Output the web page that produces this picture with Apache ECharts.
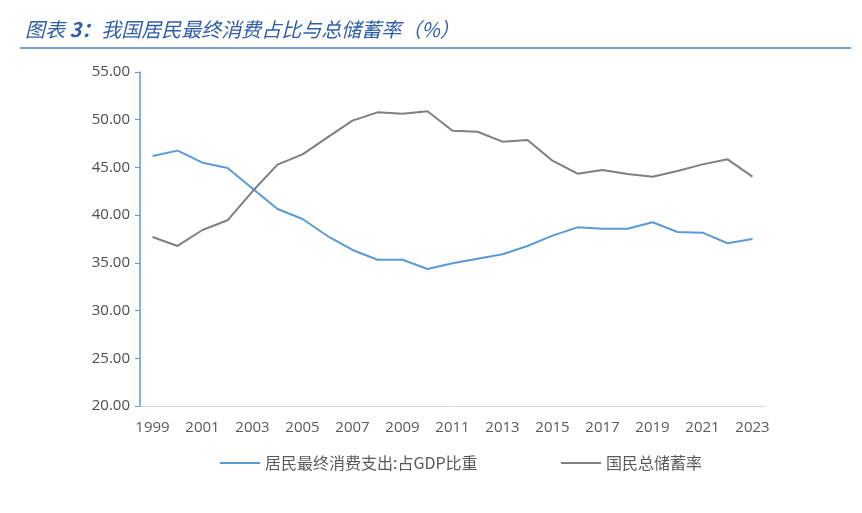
<!DOCTYPE html>
<html><head><meta charset="utf-8">
<script src="https://cdn.jsdelivr.net/npm/echarts@6/dist/echarts.min.js"></script>
<style>html,body{margin:0;padding:0;background:#fff}#c{width:862px;height:513px}</style>
</head><body><div id="c"></div>
<script>
const years = ['1999','2000','2001','2002','2003','2004','2005','2006','2007','2008','2009','2010','2011','2012','2013','2014','2015','2016','2017','2018','2019','2020','2021','2022','2023'];
const consumptionShare = [46.20,46.76,45.50,44.94,42.80,40.64,39.60,37.81,36.35,35.33,35.33,34.36,34.95,35.43,35.90,36.77,37.85,38.72,38.58,38.58,39.25,38.23,38.16,37.05,37.50];
const savingRate = [37.71,36.77,38.44,39.46,42.50,45.29,46.37,48.15,49.90,50.77,50.63,50.88,48.85,48.74,47.70,47.87,45.71,44.34,44.73,44.31,44.03,44.63,45.32,45.85,44.03];
const seriesNames = ['居民最终消费支出:占GDP比重','国民总储蓄率'];
const titlePrefix = '图表 ';
const titleNum = '3：';
const titleMain = '我国居民最终消费占比与总储蓄率（%）';

const chart = echarts.init(document.getElementById('c'));
const legendText = {fontFamily:'Noto Sans CJK SC',fontSize:16,color:'#595959'};
chart.setOption({
  animation:false,
  backgroundColor:'#fff',
  title:{text:'{a|'+titlePrefix+'}{b|'+titleNum+'}{a|'+titleMain+'}',left:20,top:14,
    textStyle:{fontWeight:'normal',rich:{
      a:{fontFamily:'Noto Sans CJK SC',fontStyle:'italic',fontWeight:'normal',fontSize:20,color:'#2f5ea8'},
      b:{fontFamily:'Noto Sans CJK SC',fontStyle:'italic',fontWeight:'bold',fontSize:20,color:'#2f5ea8'}}}},
  graphic:[{type:'line',shape:{x1:20,y1:48,x2:851,y2:48},style:{stroke:'#7aa0d6',lineWidth:2}}],
  grid:{left:140,right:97,top:72,bottom:107},
  legend:[
    {top:450,left:215,itemWidth:40,itemHeight:2,icon:'rect',itemGap:8,textStyle:legendText,data:[seriesNames[0]]},
    {top:450,left:556,itemWidth:40,itemHeight:2,icon:'rect',itemGap:8,textStyle:legendText,data:[seriesNames[1]]}
  ],
  xAxis:{type:'category',data:years,boundaryGap:true,
    axisLine:{lineStyle:{color:'#d9d9d9',width:1}},
    axisTick:{interval:1,lineStyle:{color:'#d9d9d9'},length:5},
    axisLabel:{interval:1,fontFamily:'Open Sans',fontSize:15,color:'#595959',margin:14}},
  yAxis:{type:'value',min:20,max:55,interval:5,
    axisLine:{show:true,lineStyle:{color:'#5b9bd5',width:1.5}},
    axisTick:{show:true,lineStyle:{color:'#5b9bd5'},length:5},
    splitLine:{show:false},
    axisLabel:{formatter:v=>v.toFixed(2),fontFamily:'Open Sans',fontSize:15,color:'#4d4d4d',margin:10}},
  series:[
    {name:seriesNames[0],type:'line',data:consumptionShare,symbol:'none',lineStyle:{color:'#5b9bd5',width:2},itemStyle:{color:'#5b9bd5'}},
    {name:seriesNames[1],type:'line',data:savingRate,symbol:'none',lineStyle:{color:'#7f7f7f',width:2},itemStyle:{color:'#7f7f7f'}}
  ]
});
</script></body></html>
